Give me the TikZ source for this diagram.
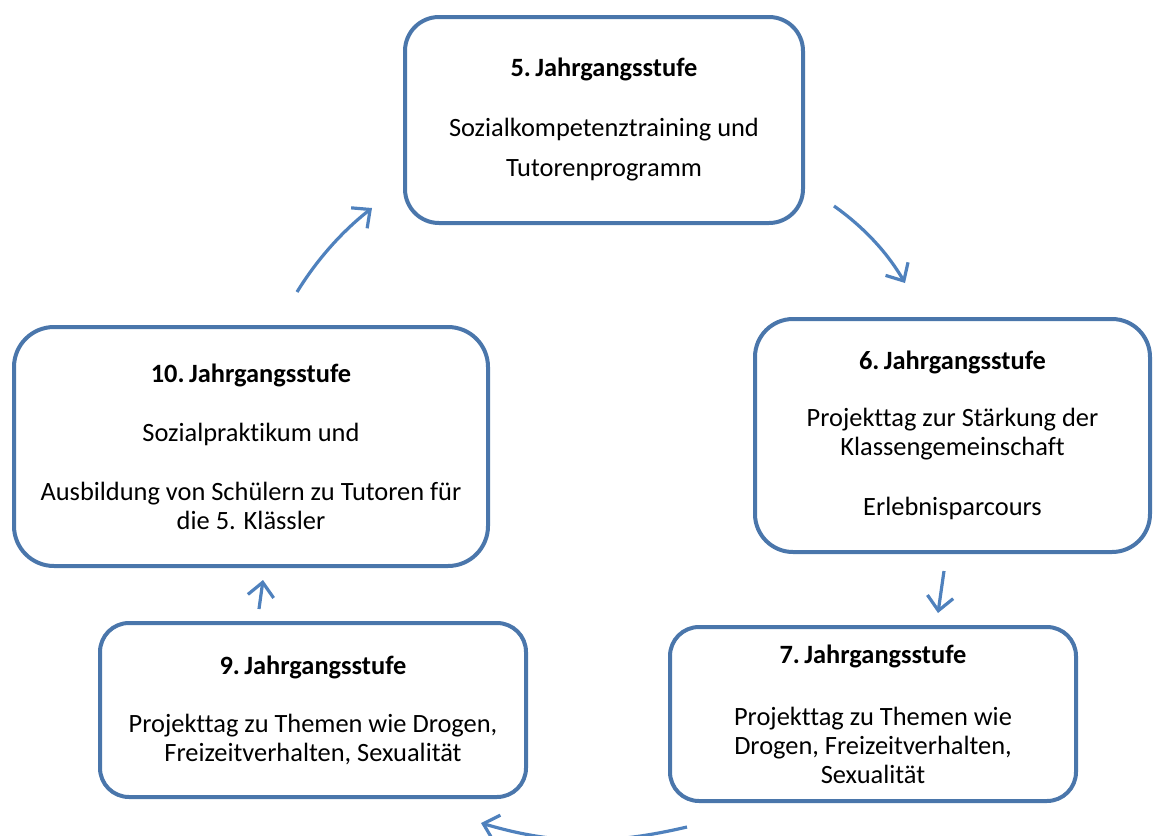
\documentclass[tikz,border=0pt]{standalone}
\usepackage{fontspec}
\setmainfont{Carlito}[Ligatures=NoCommon]
\usetikzlibrary{arrows.meta}
\definecolor{boxblue}{HTML}{4A76AB}
\definecolor{arrowblue}{HTML}{4F81BD}

\begin{document}
\begin{tikzpicture}[
    x=0.5pt, y=-0.5pt,
    stage/.style={rectangle, draw=boxblue, line width=2pt, rounded corners=17pt, align=center, inner sep=0pt, font=\fontsize{13.2}{14.5}\selectfont},
    arrow/.style={-{Straight Barb[length=7pt, width=13pt]}, draw=arrowblue, line width=1.6pt}
]
    \useasboundingbox (0,0) rectangle (1153,836);
    \clip (0,0) rectangle (1153,836);

    \node[stage, minimum width=199pt, minimum height=103pt] (g5) at (604,120)
        {\textbf{5.\,Jahrgangsstufe}\\[15.5pt]Sozialkompetenztraining und\\[5.5pt]Tutorenprogramm};
    \node[stage, minimum width=197.5pt, minimum height=116.5pt, rounded corners=19pt] (g6) at (952.5,435.5)
        {\textbf{6.\,Jahrgangsstufe}\\[14pt]Projekttag zur Stärkung der\\Klassengemeinschaft\\[15.5pt]Erlebnisparcours};
    \node[stage, minimum width=203pt, minimum height=87pt, rounded corners=14.5pt] (g7) at (873,714)
        {\textbf{7.\,Jahrgangsstufe}\\[16.5pt]Projekttag zu Themen wie\\Drogen, Freizeitverhalten,\\Sexualität};
    \node[stage, minimum width=213pt, minimum height=87pt, rounded corners=14.5pt] (g9) at (313,710)
        {\textbf{9.\,Jahrgangsstufe}\\[14.5pt]Projekttag zu Themen wie Drogen,\\Freizeitverhalten, Sexualität};
    \node[stage, minimum width=237pt, minimum height=119.5pt, rounded corners=20pt] (g10) at (251,446.5)
        {\textbf{10.\,Jahrgangsstufe}\\[15pt]Sozialpraktikum und\\[15pt]Ausbildung von Schülern zu Tutoren für\\die 5. Klässler};

    % free ends of the hand-drawn arrows
    \coordinate (a5s) at (834,206);  \coordinate (a5e) at (905,283);
    \coordinate (a6s) at (944,571);  \coordinate (a6e) at (938,613);
    \coordinate (a7s) at (687,827);  \coordinate (a7e) at (481,823);
    \coordinate (a9s) at (259,609);  \coordinate (a9e) at (263,580);
    \coordinate (a10s) at (297,292); \coordinate (a10e) at (372,208);

    \draw[arrow] (a5s) .. controls (863,226.5) and (887,252) .. (a5e);
    \draw[arrow] (a6s) -- (a6e);
    \draw[arrow] (a7s) .. controls (610,845) and (555,845) .. (a7e);
    \draw[arrow] (a9s) -- (a9e);
    \draw[arrow] (a10s) .. controls (317,259.5) and (342,231.5) .. (a10e);

\end{tikzpicture}
\end{document}
